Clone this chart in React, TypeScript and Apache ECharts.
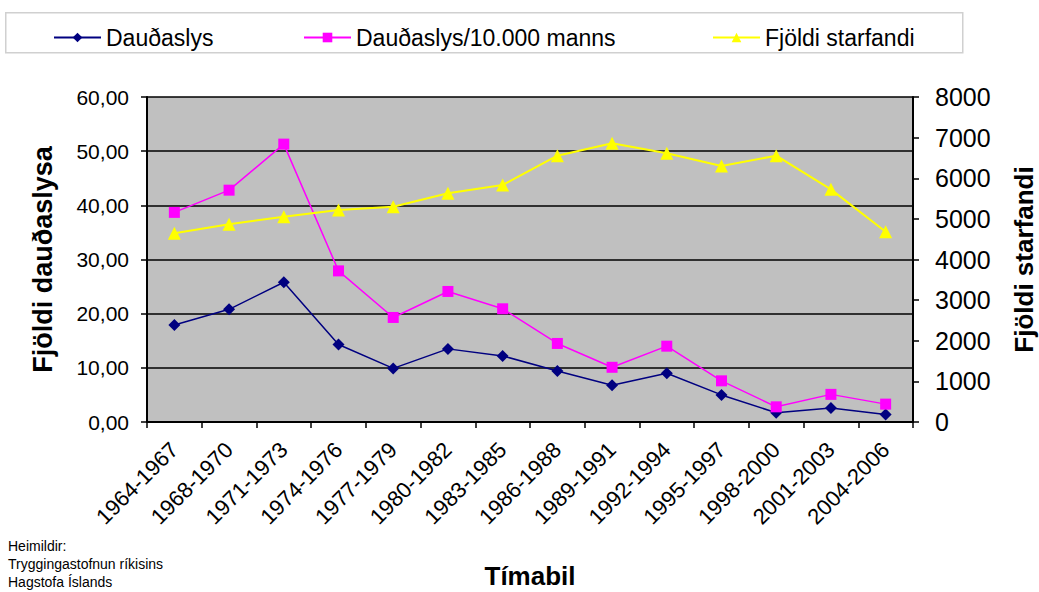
import React, { useEffect, useRef } from "react";
import * as echarts from "echarts";

const categories = [
  "1964-1967", "1968-1970", "1971-1973", "1974-1976", "1977-1979", "1980-1982", "1983-1985",
  "1986-1988", "1989-1991", "1992-1994", "1995-1997", "1998-2000", "2001-2003", "2004-2006",
];
const deaths = [17.9, 20.8, 25.8, 14.3, 9.9, 13.5, 12.2, 9.4, 6.8, 9.0, 5.0, 1.7, 2.6, 1.4];
const deathsPer10k = [38.7, 42.8, 51.3, 27.9, 19.3, 24.1, 20.9, 14.5, 10.1, 14.0, 7.6, 2.8, 5.1, 3.3];
const workers = [4645, 4866, 5054, 5218, 5300, 5630, 5834, 6555, 6860, 6614, 6302, 6555, 5727, 4685];

const seriesNames = ["Dauðaslys", "Dauðaslys/10.000 manns", "Fjöldi starfandi"];
const leftAxisName = "Fjöldi dauðaslysa";
const rightAxisName = "Fjöldi starfandi";
const xAxisName = "Tímabil";
const sourceLines = ["Heimildir:", "Tryggingastofnun ríkisins", "Hagstofa Íslands"];

const FONT = 'Arial, "Liberation Sans", sans-serif';

export default function App() {
  const ref = useRef<HTMLDivElement>(null);
  useEffect(() => {
    if (!ref.current) return;
    const chart = echarts.init(ref.current, undefined, { renderer: "svg" });
    const legendText = { fontFamily: FONT, fontSize: 23, color: "#000" };
    chart.setOption({
      animation: false,
      backgroundColor: "#fff",
      textStyle: { fontFamily: FONT },
      grid: {
        left: 147, right: 126, top: 97, bottom: 170,
        show: true, backgroundColor: "#c0c0c0", borderWidth: 0,
        outerBoundsMode: "none", containLabel: false,
      },
      graphic: [
        {
          type: "rect", left: 5, top: 12, z: -1,
          shape: { width: 957, height: 40 },
          style: { fill: "#fff", stroke: "#d0d0d0", lineWidth: 1.5 },
        },
        ...sourceLines.map((t, i) => ({
          type: "text", left: 8, top: 539 + i * 18,
          style: { text: t, fill: "#000", font: '14px "Liberation Sans Narrow", "Arial Narrow", sans-serif' },
        })),
      ],
      legend: [
        { data: [seriesNames[0]], left: 48, top: 21, itemWidth: 47, itemHeight: 12, itemGap: 5, textStyle: legendText },
        { data: [seriesNames[1]], left: 298, top: 21, itemWidth: 47, itemHeight: 12, itemGap: 5, textStyle: legendText },
        { data: [seriesNames[2]], left: 707, top: 21, itemWidth: 47, itemHeight: 12, itemGap: 5, textStyle: legendText },
      ],
      xAxis: {
        type: "category",
        data: categories,
        boundaryGap: true,
        name: xAxisName,
        nameLocation: "middle",
        nameGap: 141,
        nameTextStyle: { fontFamily: FONT, fontSize: 26, fontWeight: "bold", color: "#000" },
        axisLine: { lineStyle: { color: "#000", width: 2 } },
        axisTick: { show: true, length: 6, lineStyle: { color: "#000", width: 1.5 } },
        axisLabel: { rotate: 45, fontSize: 22, color: "#000", margin: 24, interval: 0, fontFamily: FONT },
      },
      yAxis: [
        {
          type: "value", min: 0, max: 60, interval: 10, position: "left",
          name: leftAxisName, nameLocation: "middle", nameGap: 91, nameRotate: 90,
          nameTextStyle: { fontFamily: FONT, fontSize: 27, fontWeight: "bold", color: "#000" },
          axisLine: { show: true, lineStyle: { color: "#000", width: 2 } },
          axisTick: { show: true, length: 6, lineStyle: { color: "#000", width: 1.5 } },
          axisLabel: {
            fontSize: 21, color: "#000", margin: 18, fontFamily: FONT,
            formatter: (v: number) => v.toFixed(2).replace(".", ","),
          },
          splitLine: { show: true, lineStyle: { color: "#000", width: 1.5 } },
        },
        {
          type: "value", min: 0, max: 8000, interval: 1000, position: "right",
          name: rightAxisName, nameLocation: "middle", nameGap: 98, nameRotate: 90,
          nameTextStyle: { fontFamily: FONT, fontSize: 26, lineHeight: 26, fontWeight: "bold", color: "#000" },
          axisLine: { show: true, lineStyle: { color: "#000", width: 2 } },
          axisTick: { show: true, length: 6, lineStyle: { color: "#000", width: 1.5 } },
          axisLabel: { fontSize: 25, color: "#000", margin: 22, fontFamily: FONT, formatter: (v: number) => String(v) },
          splitLine: { show: false },
        },
      ],
      series: [
        {
          name: seriesNames[0], type: "line", data: deaths, yAxisIndex: 0,
          symbol: "diamond", symbolSize: 12,
          itemStyle: { color: "#000080" }, lineStyle: { color: "#000080", width: 1.5 },
        },
        {
          name: seriesNames[1], type: "line", data: deathsPer10k, yAxisIndex: 0,
          symbol: "rect", symbolSize: 11,
          itemStyle: { color: "#ff00ff" }, lineStyle: { color: "#ff00ff", width: 1.5 },
        },
        {
          name: seriesNames[2], type: "line", data: workers, yAxisIndex: 1,
          symbol: "triangle", symbolSize: 13,
          itemStyle: { color: "#ffff00" }, lineStyle: { color: "#ffff00", width: 2 },
        },
      ],
    });
    return () => chart.dispose();
  }, []);
  return (
    <div
      ref={ref}
      style={{ position: "fixed", left: 0, top: 0, width: 1039, height: 592, background: "#fff" }}
    />
  );
}
